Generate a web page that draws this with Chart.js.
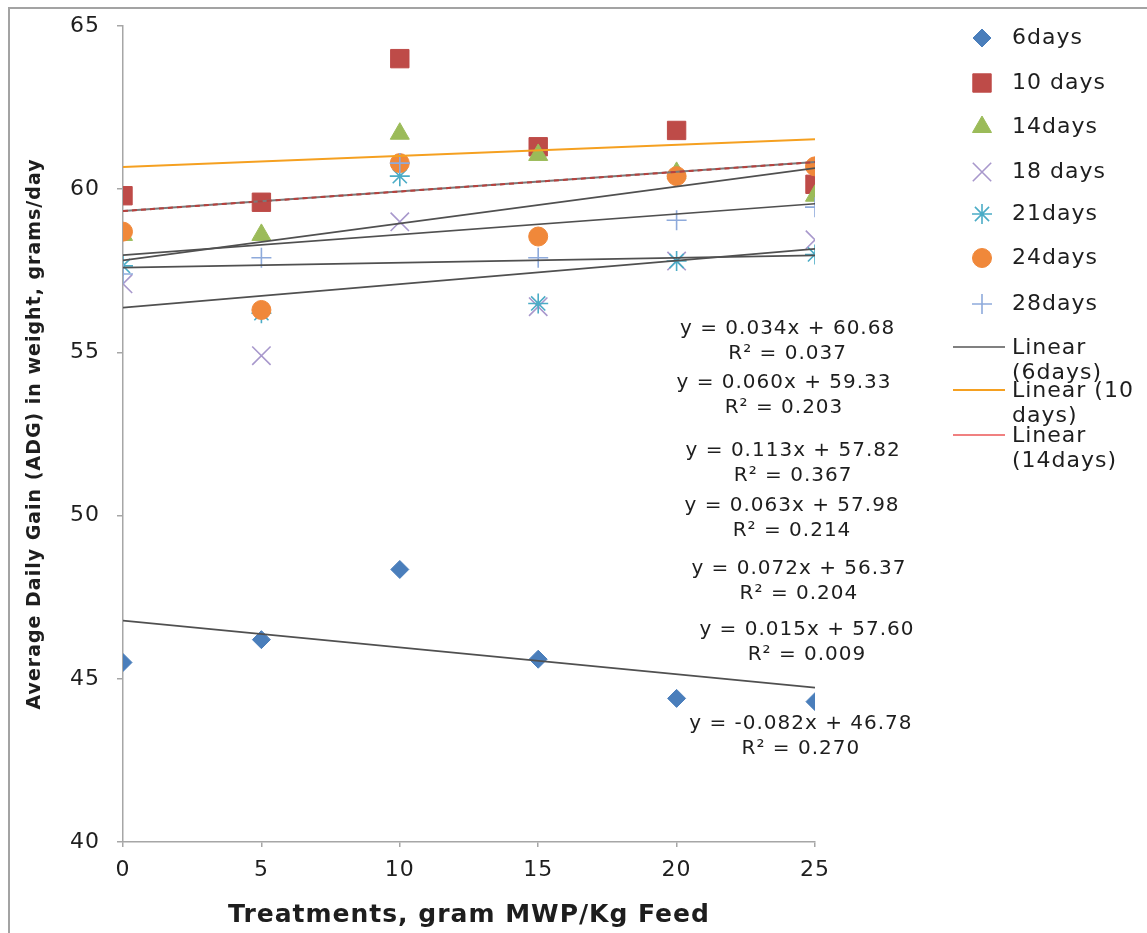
<!DOCTYPE html>
<html lang="en">
<head>
<meta charset="UTF-8">
<title>Average Daily Gain by Treatment</title>
<script src="https://cdn.jsdelivr.net/npm/chart.js"></script>
<style>
  body { margin: 0; padding: 0; background: #fff; overflow: hidden; }
  .wrap { position: relative; width: 1147px; height: 933px; }
  .frame {
    position: absolute; left: 8px; top: 7px; width: 1170px; height: 960px;
    border: 2px solid #a3a3a3; box-sizing: border-box; pointer-events: none;
  }
</style>
</head>
<body>
<div class="wrap">
  <canvas id="adgChart"></canvas>
  <div class="frame"></div>
</div>
<script>
// treatment doses (x) and ADG values per age group (y)
const doses = [0, 5, 10, 15, 20, 25];
const seriesNames = ['6days', '10 days', '14days', '18 days', '21days', '24days', '28days'];
const days6  = [45.5, 46.2, 48.35, 45.6, 44.4, 44.3];
const days10 = [59.8, 59.6, 64.0, 61.3, 61.8, 60.15];
const days14 = [58.6, 58.6, 61.7, 61.05, 60.5, 59.8];
const days18 = [57.1, 54.9, 59.0, 56.4, 57.8, 58.45];
const days21 = [57.65, 56.2, 60.4, 56.5, 57.8, 58.0];
const days24 = [58.7, 56.3, 60.8, 58.55, 60.4, 60.7];
const days28 = [57.4, 57.9, 60.8, 57.9, 59.05, 59.45];
const seriesValues = [days6, days10, days14, days18, days21, days24, days28];

// linear trendlines (same order as series)
const trendSlope     = [-0.082, 0.034, 0.060, 0.072, 0.015, 0.113, 0.063];
const trendIntercept = [46.78, 60.68, 59.33, 56.37, 57.60, 57.82, 57.98];
const trendR2        = [0.270, 0.037, 0.203, 0.204, 0.009, 0.367, 0.214];

const xTicks = [0, 5, 10, 15, 20, 25];
const yTicks = [40, 45, 50, 55, 60, 65];

// where the equation labels sit, in data units
const eqLabelX = [24.49, 24.01, 23.88, 24.42, 24.71, 24.21, 24.17];
const eqLabelY = [43.62, 55.72, 54.07, 48.38, 46.51, 51.98, 50.29];

const trendLegend = [['Linear', '(6days)'], ['Linear (10', 'days)'], ['Linear', '(14days)']];

const markerStyles = [
  { pointStyle: 'rectRot',  radius: 9,   color: '#4a7ebb', fill: true },
  { pointStyle: 'rect',     radius: 13,  color: '#be4b48', fill: true },
  { pointStyle: 'triangle', radius: 11,  color: '#9bbb59', fill: true },
  { pointStyle: 'crossRot', radius: 13,  color: '#a898cc', fill: false },
  { pointStyle: 'star',     radius: 10,  color: '#4bacc6', fill: false },
  { pointStyle: 'circle',   radius: 9.5, color: '#f0883a', fill: true },
  { pointStyle: 'cross',    radius: 10,  color: '#8eaadb', fill: false }
];
const trendColors = ['#505050', '#f5a020', '#c0504d', '#505050', '#505050', '#505050', '#505050'];
const legendLineColors = ['#808080', '#f5a020', '#f08080'];

const FONT = 'DejaVu Sans';
const TEXT = '#1e1e1e';

function trendPoint(i, x) {
  return { x: x, y: trendIntercept[i] + trendSlope[i] * x };
}

function eqText(i) {
  return 'y = ' + trendSlope[i].toFixed(3) + 'x + ' + trendIntercept[i].toFixed(2);
}

const datasets = [];
seriesNames.forEach((name, i) => {
  const st = markerStyles[i];
  datasets.push({
    label: name,
    data: doses.map((d, k) => ({ x: d, y: seriesValues[i][k] })),
    pointStyle: st.pointStyle,
    pointRadius: st.radius,
    backgroundColor: st.fill ? st.color : 'transparent',
    borderColor: st.color,
    pointBorderWidth: st.fill ? 1 : 1.6,
    showLine: false,
    order: 100 - i
  });
});
seriesNames.forEach((name, i) => {
  const line = [trendPoint(i, doses[0]), trendPoint(i, doses[doses.length - 1])];
  if (i === 2) {
    // 14days trend shows as red dashes over a grey line
    datasets.push({
      label: 'Linear (' + name + ') base',
      data: line, showLine: true, pointRadius: 0,
      borderColor: '#7a7a7a', borderWidth: 2, order: 20
    });
    datasets.push({
      label: 'Linear (' + name + ')',
      data: line, showLine: true, pointRadius: 0,
      borderColor: '#b8403d', borderWidth: 2, borderDash: [5, 4], order: 5
    });
  } else {
    datasets.push({
      label: 'Linear (' + name + ')',
      data: line, showLine: true, pointRadius: 0,
      borderColor: trendColors[i], borderWidth: i === 1 ? 2 : 1.7, order: 10 - i
    });
  }
});

const overlayPlugin = {
  id: 'overlay',
  beforeDraw(chart) {
    chart.ctx.letterSpacing = '1px';
  },
  afterDraw(chart) {
    const { ctx } = chart;
    const xs = chart.scales.x, ys = chart.scales.y;
    ctx.save();
    ctx.letterSpacing = '1px';
    ctx.fillStyle = TEXT;
    ctx.font = '20px "' + FONT + '"';
    ctx.textAlign = 'center';
    ctx.textBaseline = 'middle';
    seriesNames.forEach((n, i) => {
      const px = xs.getPixelForValue(eqLabelX[i]);
      const py = ys.getPixelForValue(eqLabelY[i]);
      ctx.fillText(eqText(i), px, py);
      ctx.fillText('R\u00b2 = ' + trendR2[i].toFixed(3), px, py + 25);
    });

    // legend
    ctx.font = '22px "' + FONT + '"';
    ctx.textAlign = 'left';
    const rows = [38, 83, 127, 172, 214, 258, 304];
    seriesNames.forEach((n, i) => {
      const st = markerStyles[i];
      ctx.fillStyle = st.fill ? st.color : 'transparent';
      ctx.strokeStyle = st.color;
      ctx.lineWidth = st.fill ? 1 : 1.6;
      Chart.helpers.drawPoint(ctx, { pointStyle: st.pointStyle, radius: st.radius, rotation: 0, borderWidth: ctx.lineWidth }, 982, rows[i]);
      ctx.fillStyle = TEXT;
      ctx.fillText(n, 1012, rows[i]);
    });
    const lineRows = [347, 390, 435];
    trendLegend.forEach((txt, i) => {
      ctx.strokeStyle = legendLineColors[i];
      ctx.lineWidth = 2;
      ctx.beginPath();
      ctx.moveTo(953, lineRows[i]);
      ctx.lineTo(1005, lineRows[i]);
      ctx.stroke();
      ctx.fillStyle = TEXT;
      ctx.fillText(txt[0], 1012, lineRows[i] + 1);
      ctx.fillText(txt[1], 1012, lineRows[i] + 26);
    });
    ctx.restore();
  }
};

Chart.defaults.font.family = FONT;
Chart.defaults.color = TEXT;

new Chart(document.getElementById('adgChart'), {
  type: 'scatter',
  data: { datasets: datasets },
  options: {
    responsive: true,
    maintainAspectRatio: false,
    animation: false,
    events: [],
    layout: { padding: { top: 26, right: 332, left: 0, bottom: 0 } },
    plugins: { legend: { display: false }, tooltip: { enabled: false } },
    scales: {
      x: {
        type: 'linear',
        min: xTicks[0],
        max: xTicks[xTicks.length - 1],
        afterBuildTicks: (s) => { s.ticks = xTicks.map(v => ({ value: v })); },
        ticks: { font: { size: 22, lineHeight: 1.2 }, padding: 10, color: TEXT, maxRotation: 0 },
        grid: { drawOnChartArea: false, drawTicks: true, tickLength: 5, color: '#a6a6a6', lineWidth: 1.5 },
        border: { display: true, color: '#a6a6a6', width: 1.5 },
        title: {
          display: true,
          text: 'Treatments, gram MWP/Kg Feed',
          font: { size: 25, weight: 'bold', lineHeight: 1.2 },
          color: TEXT,
          padding: { top: 6.6, bottom: 3 }
        }
      },
      y: {
        type: 'linear',
        min: yTicks[0],
        max: yTicks[yTicks.length - 1],
        afterFit: (s) => { s.width = 123; s.paddingTop = 0; s.paddingBottom = 0; },
        afterBuildTicks: (s) => { s.ticks = yTicks.map(v => ({ value: v })); },
        ticks: { font: { size: 22 }, padding: 17, color: TEXT },
        grid: { drawOnChartArea: false, drawTicks: true, tickLength: 6, color: '#a6a6a6', lineWidth: 1.5 },
        border: { display: true, color: '#a6a6a6', width: 1.5 },
        title: {
          display: true,
          text: 'Average Daily Gain (ADG) in weight, grams/day',
          font: { size: 19, weight: 'bold', lineHeight: 1.2 },
          color: TEXT,
          padding: { top: 24, bottom: 0 }
        }
      }
    }
  },
  plugins: [overlayPlugin]
});
</script>
</body>
</html>
